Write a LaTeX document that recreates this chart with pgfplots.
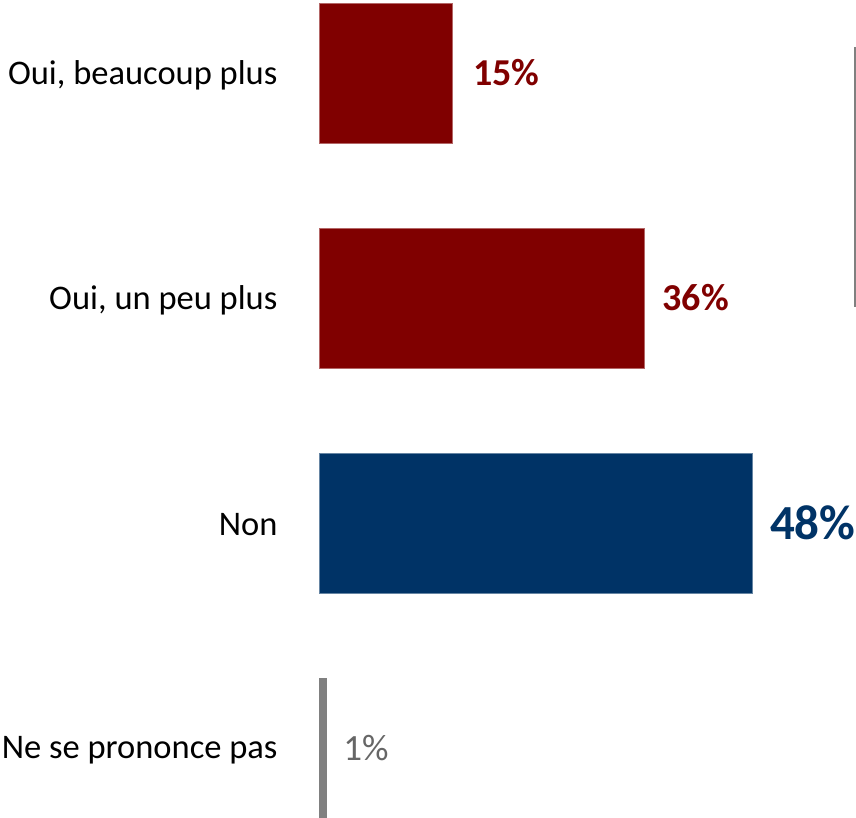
\documentclass[border=0pt]{standalone}
\usepackage{fontspec}
\setmainfont{Carlito}
\usepackage{pgfplots}
\pgfplotsset{compat=1.18}
\definecolor{barred}{HTML}{800000}
\definecolor{barblue}{HTML}{003366}
\definecolor{bargray}{HTML}{808080}
\definecolor{lblgray}{HTML}{666666}
\begin{document}
\begin{tikzpicture}
\begin{axis}[
  at={(0,0)}, anchor=south west,
  scale only axis,
  width=537pt, height=815pt,
  xbar, bar width=140pt, bar shift=0pt,
  xmin=0, xmax=59.47,
  ymin=-0.311, ymax=3.311,
  y dir=reverse,
  axis line style={draw=none},
  xtick=\empty,
  ytick={0,1,2,3},
  yticklabels={{Oui, beaucoup plus}, {Oui, un peu plus}, {Non}, {Ne se prononce pas}},
  yticklabel style={font=\fontsize{34.5}{38}\selectfont, text=black, xshift=-38pt, yshift=-2pt},
  major tick length=0pt,
  clip=false,
]
\addplot[fill=barred, draw=barred!60, line width=0.5pt] coordinates {(14.8,0)}
  node[pos=1, anchor=west, xshift=17pt, text=barred, font=\bfseries\fontsize{38}{41}\selectfont] {15\%};
\addplot[fill=barred, draw=barred!60, line width=0.5pt] coordinates {(36,1)}
  node[pos=1, anchor=west, xshift=15pt, text=barred, font=\bfseries\fontsize{38}{41}\selectfont] {36\%};
\addplot[fill=barblue, draw=barblue!60, line width=0.5pt] coordinates {(48,2)}
  node[pos=1, anchor=west, xshift=14pt, text=barblue, font=\bfseries\fontsize{49}{53}\selectfont] {48\%};
\addplot[fill=bargray, draw=bargray, line width=0.5pt] coordinates {(0.75,3)}
  node[pos=1, anchor=west, xshift=14pt, text=lblgray, font=\fontsize{37}{40}\selectfont] {1\%};
\draw[gray, line width=1.2pt] (axis cs:59.35,-0.116) -- (axis cs:59.35,1.04);
\end{axis}
\pgfresetboundingbox
\path[use as bounding box] (-319pt,0pt) rectangle (537pt,818pt);
\end{tikzpicture}
\end{document}
